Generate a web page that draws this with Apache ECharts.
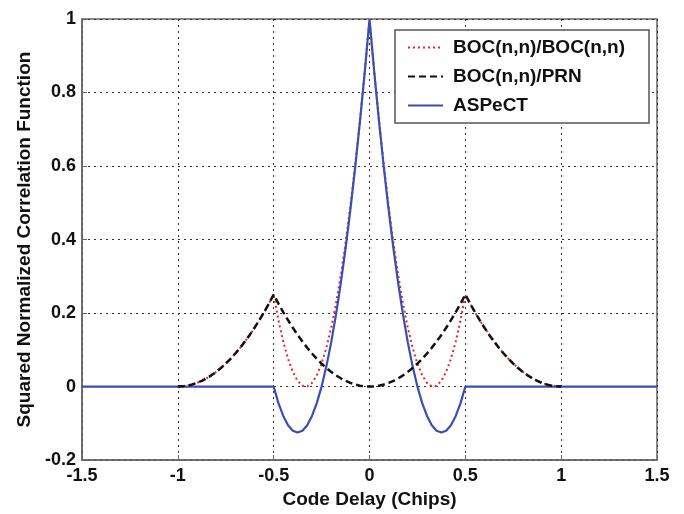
<!DOCTYPE html>
<html>
<head>
<meta charset="utf-8">
<script src="https://cdn.jsdelivr.net/npm/echarts@6/dist/echarts.min.js"></script>
<style>
html,body{margin:0;padding:0;background:#fff;}
#chart{width:684px;height:514px;}
</style>
</head>
<body>
<div id="chart"></div>
<script>
// Code delay (chips)
var delays = [-1.5,
 -1,-0.975,-0.95,-0.925,-0.9,-0.875,-0.85,-0.825,-0.8,-0.775,-0.75,-0.725,-0.7,-0.675,-0.65,-0.625,-0.6,-0.575,-0.55,-0.525,
 -0.5,-0.475,-0.45,-0.425,-0.4,-0.375,-0.35,-0.325,-0.3,-0.275,-0.25,-0.225,-0.2,-0.175,-0.15,-0.125,-0.1,-0.075,-0.05,-0.025,
 0,
 0.025,0.05,0.075,0.1,0.125,0.15,0.175,0.2,0.225,0.25,0.275,0.3,0.325,0.35,0.375,0.4,0.425,0.45,0.475,0.5,
 0.525,0.55,0.575,0.6,0.625,0.65,0.675,0.7,0.725,0.75,0.775,0.8,0.825,0.85,0.875,0.9,0.925,0.95,0.975,1,
 1.5];

// BOC(n,n)/BOC(n,n) squared correlation
var bocBoc = [null,
 0,0.0006,0.0025,0.0056,0.01,0.0156,0.0225,0.0306,0.04,0.0506,0.0625,0.0756,0.09,0.1056,0.1225,0.1406,0.16,0.1806,0.2025,0.2256,
 0.25,0.1806,0.1225,0.0756,0.04,0.0156,0.0025,0.0006,0.01,0.0306,0.0625,0.1056,0.16,0.2256,0.3025,0.3906,0.49,0.6006,0.7225,0.8556,
 1,
 0.8556,0.7225,0.6006,0.49,0.3906,0.3025,0.2256,0.16,0.1056,0.0625,0.0306,0.01,0.0006,0.0025,0.0156,0.04,0.0756,0.1225,0.1806,0.25,
 0.2256,0.2025,0.1806,0.16,0.1406,0.1225,0.1056,0.09,0.0756,0.0625,0.0506,0.04,0.0306,0.0225,0.0156,0.01,0.0056,0.0025,0.0006,0,
 null];

// BOC(n,n)/PRN squared correlation
var bocPrn = [null,
 0,0.0006,0.0025,0.0056,0.01,0.0156,0.0225,0.0306,0.04,0.0506,0.0625,0.0756,0.09,0.1056,0.1225,0.1406,0.16,0.1806,0.2025,0.2256,
 0.25,0.2256,0.2025,0.1806,0.16,0.1406,0.1225,0.1056,0.09,0.0756,0.0625,0.0506,0.04,0.0306,0.0225,0.0156,0.01,0.0056,0.0025,0.0006,
 0,
 0.0006,0.0025,0.0056,0.01,0.0156,0.0225,0.0306,0.04,0.0506,0.0625,0.0756,0.09,0.1056,0.1225,0.1406,0.16,0.1806,0.2025,0.2256,0.25,
 0.2256,0.2025,0.1806,0.16,0.1406,0.1225,0.1056,0.09,0.0756,0.0625,0.0506,0.04,0.0306,0.0225,0.0156,0.01,0.0056,0.0025,0.0006,0,
 null];

// ASPeCT
var aspect = [0,
 0,0,0,0,0,0,0,0,0,0,0,0,0,0,0,0,0,0,0,0,
 0,-0.045,-0.08,-0.105,-0.12,-0.125,-0.12,-0.105,-0.08,-0.045,0,0.055,0.12,0.195,0.28,0.375,0.48,0.595,0.72,0.855,
 1,
 0.855,0.72,0.595,0.48,0.375,0.28,0.195,0.12,0.055,0,-0.045,-0.08,-0.105,-0.12,-0.125,-0.12,-0.105,-0.08,-0.045,0,
 0,0,0,0,0,0,0,0,0,0,0,0,0,0,0,0,0,0,0,0,
 0];

var seriesNames = ['BOC(n,n)/BOC(n,n)', 'BOC(n,n)/PRN', 'ASPeCT'];

function pairs(vals){
  var out = [];
  for (var i = 0; i < delays.length; i++) out.push([delays[i], vals[i]]);
  return out;
}

var font = 'Liberation Sans, Arial, Helvetica, sans-serif';
var chart = echarts.init(document.getElementById('chart'), null, {renderer:'canvas'});
chart.setOption({
  animation: false,
  backgroundColor: '#fff',
  grid: {left: 82, right: 27, top: 19, bottom: 50, show: true, borderColor: '#666', borderWidth: 1.5, backgroundColor: 'transparent'},
  legend: {
    orient: 'vertical',
    left: 395, top: 30,
    padding: [8, 24, 8, 12],
    itemWidth: 35, itemHeight: 14, itemGap: 10,
    backgroundColor: '#fff',
    borderColor: '#555', borderWidth: 1.5,
    itemStyle: {opacity: 0},
    textStyle: {fontFamily: font, fontSize: 19, fontWeight: 'bold', color: '#111', padding: [0,0,0,5]},
    data: seriesNames
  },
  xAxis: {
    type: 'value', min: -1.5, max: 1.5, interval: 0.5,
    name: 'Code Delay (Chips)', nameLocation: 'middle', nameGap: 27,
    nameTextStyle: {fontFamily: font, fontSize: 19, fontWeight: 'bold', color: '#111'},
    axisLine: {show: true, onZero: false, lineStyle: {color: '#666', width: 1.5}},
    axisTick: {show: true, inside: true, length: 5, lineStyle: {color: '#666'}},
    axisLabel: {fontFamily: font, fontSize: 18, fontWeight: 'bold', color: '#111', margin: 7},
    splitLine: {show: true, lineStyle: {color: '#333', type: [2, 4], width: 1}}
  },
  yAxis: {
    type: 'value', min: -0.2, max: 1, interval: 0.2,
    name: 'Squared Normalized Correlation Function', nameLocation: 'middle', nameGap: 48,
    nameTextStyle: {fontFamily: font, fontSize: 19, fontWeight: 'bold', color: '#111'},
    axisLine: {show: true, onZero: false, lineStyle: {color: '#666', width: 1.5}},
    axisTick: {show: true, inside: true, length: 5, lineStyle: {color: '#666'}},
    axisLabel: {fontFamily: font, fontSize: 18, fontWeight: 'bold', color: '#111', margin: 6},
    splitLine: {show: true, lineStyle: {color: '#333', type: [2, 4], width: 1}}
  },
  series: [
    {name: seriesNames[0], type: 'line', data: pairs(bocBoc), showSymbol: false, symbol: 'none', connectNulls: false,
     lineStyle: {color: '#e8262a', width: 2, type: [2, 3]}, itemStyle: {color: '#e8262a'}, z: 2},
    {name: seriesNames[1], type: 'line', data: pairs(bocPrn), showSymbol: false, symbol: 'none', connectNulls: false,
     lineStyle: {color: '#111', width: 2.5, type: [7, 4]}, itemStyle: {color: '#111'}, z: 4},
    {name: seriesNames[2], type: 'line', data: pairs(aspect), showSymbol: false, symbol: 'none',
     lineStyle: {color: '#3a4fb2', width: 2.2}, itemStyle: {color: '#3a4fb2'}, z: 3}
  ]
});
</script>
</body>
</html>
